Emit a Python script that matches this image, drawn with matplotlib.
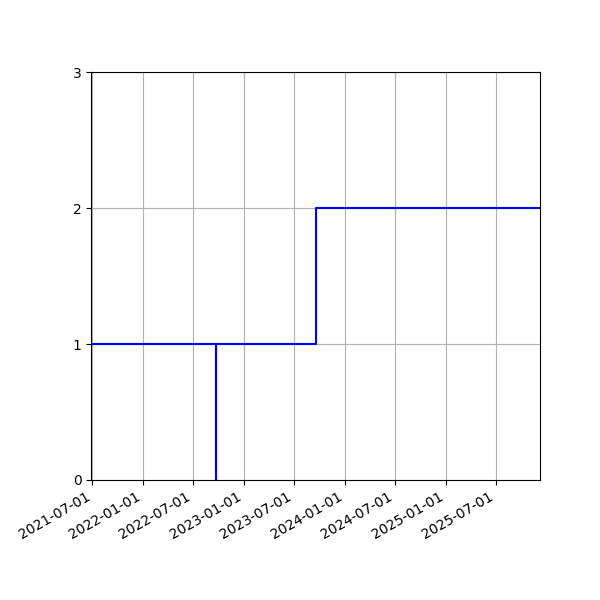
import datetime as dt
import matplotlib
matplotlib.use("Agg")
import matplotlib.pyplot as plt
import matplotlib.dates as mdates

# step data (value holds until the next time)
times = [dt.datetime(2021, 6, 27), dt.datetime(2022, 9, 23), dt.datetime(2022, 9, 23),
         dt.datetime(2023, 9, 18), dt.datetime(2025, 12, 8)]
values = [1, 0, 1, 2, 2]

fig, ax = plt.subplots(figsize=(6, 6), dpi=100)
ax.step(times, values, where="post", color="blue", linewidth=1.5)
ax.set_xlim(times[0], times[-1])
ax.set_ylim(0, 3)
ax.set_yticks([0, 1, 2, 3])
ax.xaxis.set_major_locator(mdates.MonthLocator(bymonth=[1, 7]))
ax.xaxis.set_major_formatter(mdates.DateFormatter("%Y-%m-%d"))
ax.grid(True)
plt.setp(ax.get_xticklabels(), rotation=30, ha="right")
fig.subplots_adjust(left=0.152, right=0.9, top=0.88, bottom=0.2)
fig.savefig("out.png")
